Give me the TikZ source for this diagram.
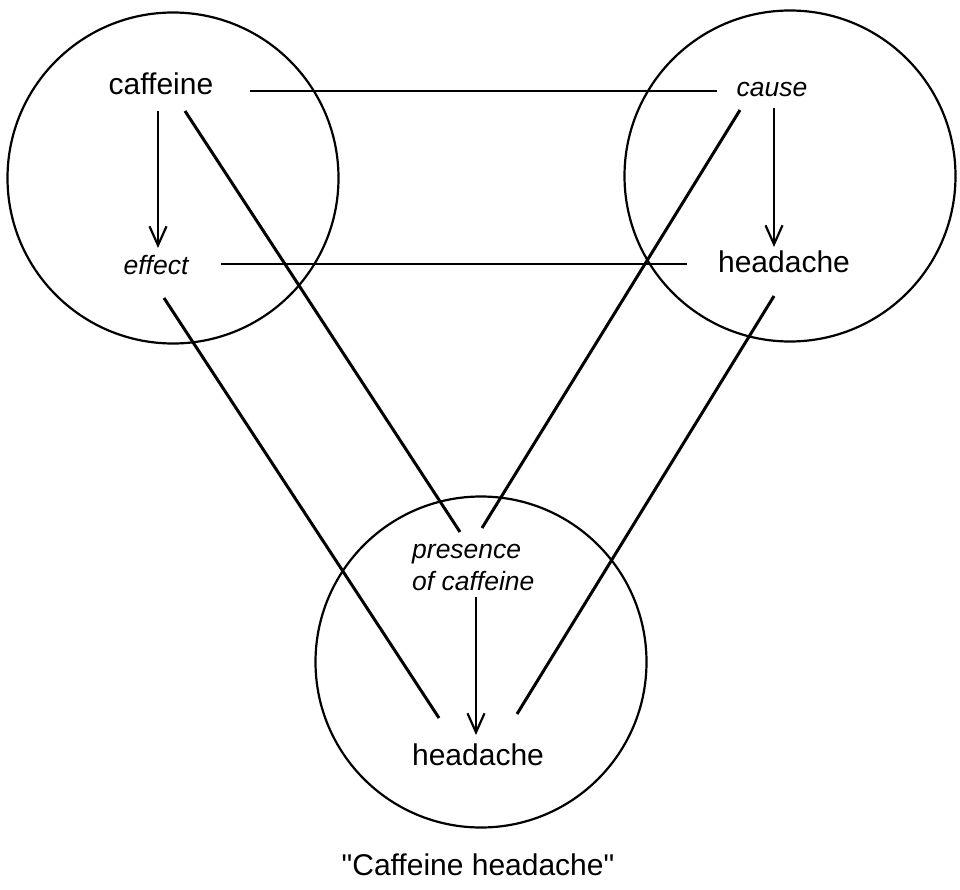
\documentclass[tikz,border=0pt]{standalone}
\usepackage{fontspec}
\setmainfont{Liberation Sans}
\newfontfamily\capfont{Liberation Sans}
\usetikzlibrary{arrows.meta}
\begin{document}
\begin{tikzpicture}[x=1pt,y=-1pt,
  ring/.style={circle,draw,line width=2.2pt,minimum size=331pt,inner sep=0pt},
  word/.style={inner sep=0pt,anchor=base,font=\fontsize{30}{36}\selectfont},
  role/.style={inner sep=0pt,anchor=base,font=\fontsize{26.5}{32}\selectfont\itshape},
  link/.style={line width=2.2pt},
  diag/.style={line width=3pt},
  arr/.style={line width=2.2pt,-{Straight Barb[length=19pt,width=17pt,line width=2.2pt]}}]
\useasboundingbox (0,0) rectangle (960,890);
% circles
\node[ring] (L) at (173,178) {};
\node[ring] (R) at (790,176) {};
\node[ring] (B) at (481,662) {};
% texts
\node[word] (caffeine) at (161,95) {caffeine};
\node[role] (effect) at (156,275) {effect};
\node[role] (cause) at (772,97) {cause};
\node[word] (headR) at (784,273) {headache};
\node[role,anchor=base west,align=left] (presence) at (412,590) {presence\\of caffeine};
\node[word] (headB) at (478,765) {headache};
\node[word,font=\capfont\fontsize{30}{36}\selectfont] (caption) at (478,875) {"Caffeine headache"};
% connector end points
\coordinate (caf-d) at (158,111);
\coordinate (eff-u) at (158,248);
\coordinate (caf-x) at (185,111);
\coordinate (pre-l) at (460,532);
\coordinate (caf-r) at (250,91);
\coordinate (cau-l) at (717,91);
\coordinate (eff-r) at (221,264);
\coordinate (hr-l) at (687,264);
\coordinate (cau-x) at (740,110);
\coordinate (pre-r) at (482,528);
\coordinate (cau-d) at (774,108);
\coordinate (hr-u) at (774,247);
\coordinate (eff-x) at (164,298);
\coordinate (hb-l) at (439,718);
\coordinate (hr-x) at (774,296);
\coordinate (hb-r) at (517,714);
\coordinate (pre-d) at (476,597);
\coordinate (hb-u) at (476,735);
% connectors
\draw[arr] (caf-d) -- (eff-u);
\draw[diag] (caf-x) -- (pre-l);
\draw[link] (caf-r) -- (cau-l);
\draw[link] (eff-r) -- (hr-l);
\draw[diag] (cau-x) -- (pre-r);
\draw[arr] (cau-d) -- (hr-u);
\draw[diag] (eff-x) -- (hb-l);
\draw[diag] (hr-x) -- (hb-r);
\draw[arr] (pre-d) -- (hb-u);
\end{tikzpicture}
\end{document}
